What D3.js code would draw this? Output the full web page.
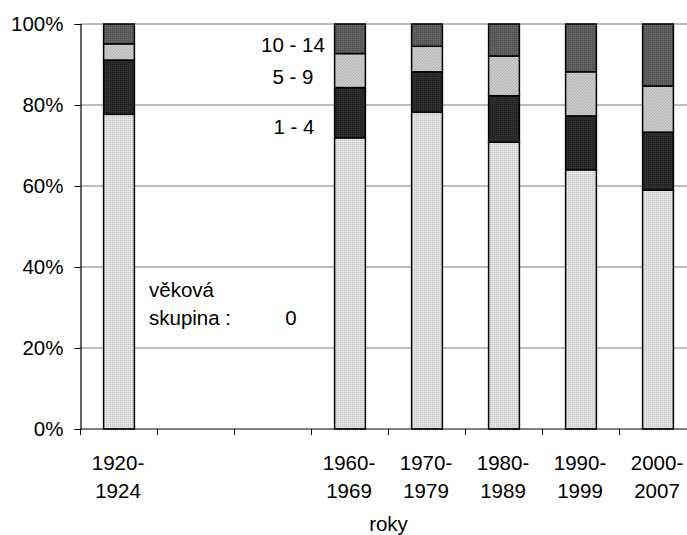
<!DOCTYPE html>
<html>
<head>
<meta charset="utf-8">
<script src="https://cdn.jsdelivr.net/npm/d3@7"></script>
<style>
  body { margin: 0; background: #fff; }
  text { font-family: "Liberation Sans", Arial, sans-serif; fill: #000; }
</style>
</head>
<body>
<div id="chart"></div>
<script>
// category slots (two empty slots between 1920-1924 and 1960-1969)
var periods = [["1920-", "1924"], ["", ""], ["", ""], ["1960-", "1969"], ["1970-", "1979"],
  ["1980-", "1989"], ["1990-", "1999"], ["2000-", "2007"]];

// share of deaths by age group (%)
var age0 = [77.7, null, null, 71.9, 78.2, 70.8, 64.0, 59.0];
var age1_4 = [13.4, null, null, 12.4, 10.0, 11.5, 13.3, 14.3];
var age5_9 = [4.0, null, null, 8.4, 6.3, 9.8, 10.9, 11.4];
var age10_14 = [4.9, null, null, 7.3, 5.5, 7.9, 11.8, 15.3];

var groupNames = ["0", "1 - 4", "5 - 9", "10 - 14"];
var yTicks = [0, 20, 40, 60, 80, 100];

var svgWidth = 687;
var svgHeight = 535;
var fontSize = 20.5;

var margin = { top: 24, left: 80.5 };
var plotHeight = 405;
var plotWidth = 616;

var svg = d3.select("#chart")
  .append("svg")
  .attr("width", svgWidth)
  .attr("height", svgHeight);

// patterns imitating the printed textures
var defs = svg.append("defs");
function dotPattern(id, bg, dot, size) {
  var p = defs.append("pattern")
    .attr("id", id)
    .attr("width", size)
    .attr("height", size)
    .attr("patternUnits", "userSpaceOnUse");
  p.append("rect").attr("width", size).attr("height", size).attr("fill", bg);
  p.append("rect").attr("width", 1).attr("height", 1).attr("fill", dot);
  return p;
}
dotPattern("p0", "#e2e2e2", "#c4c4c4", 2);
dotPattern("p1", "#2e2e2e", "#1a1a1a", 2);
dotPattern("p3", "#626262", "#4a4a4a", 2);
var hatch = defs.append("pattern")
  .attr("id", "p2")
  .attr("width", 3)
  .attr("height", 3)
  .attr("patternUnits", "userSpaceOnUse");
hatch.append("rect").attr("width", 3).attr("height", 3).attr("fill", "#cdcdcd");
hatch.append("path").attr("d", "M0,3 L3,0").attr("stroke", "#a8a8a8").attr("stroke-width", 0.8);

var fills = ["url(#p0)", "url(#p1)", "url(#p2)", "url(#p3)"];

var x = d3.scaleBand()
  .domain(d3.range(periods.length))
  .range([margin.left, margin.left + plotWidth]);

var y = d3.scaleLinear()
  .domain([0, 100])
  .range([margin.top + plotHeight, margin.top]);

// gridlines
svg.append("g")
  .selectAll("line")
  .data(yTicks.filter(d => d > 0))
  .enter()
  .append("line")
  .attr("x1", margin.left)
  .attr("x2", margin.left + plotWidth)
  .attr("y1", d => y(d))
  .attr("y2", d => y(d))
  .attr("stroke", "#7a7a7a")
  .attr("stroke-width", 1);

// stacked bars
var rows = periods.map(function(p, i) {
  return { i: i, a0: age0[i], a1: age1_4[i], a2: age5_9[i], a3: age10_14[i] };
}).filter(d => d.a0 !== null);

var series = d3.stack().keys(["a0", "a1", "a2", "a3"])(rows);
var barW = x.bandwidth() * 0.4;

svg.append("g")
  .selectAll("g")
  .data(series)
  .enter()
  .append("g")
  .attr("fill", (d, k) => fills[k])
  .selectAll("rect")
  .data(d => d)
  .enter()
  .append("rect")
  .attr("x", d => x(d.data.i) + x.bandwidth() / 2 - barW / 2)
  .attr("y", d => y(d[1]))
  .attr("width", barW)
  .attr("height", d => y(d[0]) - y(d[1]))
  .attr("stroke", "#000")
  .attr("stroke-width", 1.5);

// y axis
var yAxis = d3.axisLeft(y)
  .tickValues(yTicks)
  .tickSize(6)
  .tickPadding(11)
  .tickFormat(d => d + "%");

svg.append("g")
  .attr("transform", `translate(${margin.left}, 0)`)
  .call(yAxis)
  .attr("font-size", fontSize)
  .attr("font-family", "Liberation Sans, Arial, sans-serif")
  .call(g => g.select(".domain").attr("stroke", "#000").attr("stroke-width", 1.2));

// x axis: ticks between categories
var xAxisG = svg.append("g");
xAxisG.append("line")
  .attr("x1", margin.left)
  .attr("x2", margin.left + plotWidth)
  .attr("y1", y(0))
  .attr("y2", y(0))
  .attr("stroke", "#000")
  .attr("stroke-width", 1.2);
xAxisG.selectAll("line.tick")
  .data(d3.range(periods.length))
  .enter()
  .append("line")
  .attr("class", "tick")
  .attr("x1", d => x(d))
  .attr("x2", d => x(d))
  .attr("y1", y(0))
  .attr("y2", y(0) + 6)
  .attr("stroke", "#000");

var xLabels = xAxisG.selectAll("text")
  .data(periods)
  .enter()
  .append("text")
  .attr("text-anchor", "middle")
  .attr("font-size", fontSize)
  .attr("x", (d, i) => x(i) + x.bandwidth() / 2 - 1);
xLabels.append("tspan").attr("y", 470).text(d => d[0]);
xLabels.append("tspan")
  .attr("x", (d, i) => x(i) + x.bandwidth() / 2 - 1)
  .attr("y", 498).text(d => d[1]);

svg.append("text")
  .attr("x", margin.left + plotWidth / 2)
  .attr("y", 531)
  .attr("text-anchor", "middle")
  .attr("font-size", fontSize)
  .text("roky");

// age group annotations
var annot = svg.append("g").attr("font-size", fontSize);
annot.append("text").attr("x", 293).attr("y", 52).attr("text-anchor", "middle").text(groupNames[3]);
annot.append("text").attr("x", 293).attr("y", 84).attr("text-anchor", "middle").text(groupNames[2]);
annot.append("text").attr("x", 294).attr("y", 134).attr("text-anchor", "middle").text(groupNames[1]);
annot.append("text").attr("x", 149).attr("y", 297).text("věková");
annot.append("text").attr("x", 149).attr("y", 325).text("skupina :");
annot.append("text").attr("x", 291).attr("y", 325).attr("text-anchor", "middle").text(groupNames[0]);
</script>
</body>
</html>
